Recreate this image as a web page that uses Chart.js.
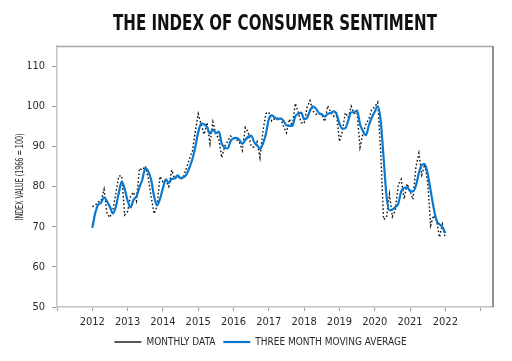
<!DOCTYPE html>
<html>
<head>
<meta charset="utf-8">
<script src="https://cdn.jsdelivr.net/npm/chart.js@4.4.1/dist/chart.umd.min.js"></script>
<style>
  html, body { margin: 0; padding: 0; background: #ffffff; }
  #wrap { width: 512px; height: 361px; position: relative; }
</style>
</head>
<body>
<div id="wrap"><canvas id="c" width="512" height="361"></canvas></div>
<script>
// ---- Data (University of Michigan Index of Consumer Sentiment, Jan 2012 – Jan 2022) ----
const chartTitle = "THE INDEX OF CONSUMER SENTIMENT";
const yAxisTitle = "INDEX VALUE (1966 = 100)";
const seriesNames = ["MONTHLY DATA", "THREE MONTH MOVING AVERAGE"];
const startYear = 2012;
const yearTicks = [2012, 2013, 2014, 2015, 2016, 2017, 2018, 2019, 2020, 2021, 2022];

const monthlyData = [
  75.0, 75.3, 76.2, 76.4, 79.3, 73.2, 72.3, 74.3, 78.3, 82.6, 82.7, 72.9,
  73.8, 77.6, 78.6, 76.4, 84.5, 84.1, 85.1, 82.1, 77.5, 73.2, 75.1, 82.5,
  81.2, 81.6, 80.0, 84.1, 81.9, 82.5, 81.8, 82.5, 84.6, 86.9, 88.8, 93.6,
  98.1, 95.4, 93.0, 95.9, 90.7, 96.1, 93.1, 91.9, 87.2, 90.0, 91.3, 92.6,
  92.0, 91.7, 91.0, 89.0, 94.7, 93.5, 90.0, 89.8, 91.2, 87.2, 93.8, 98.2,
  98.5, 96.3, 96.9, 97.0, 97.1, 95.0, 93.4, 96.8, 95.1, 100.7, 98.5, 95.9,
  95.7, 99.7, 101.4, 98.8, 98.0, 98.2, 97.9, 96.2, 100.1, 98.6, 97.5, 98.3,
  91.2, 93.8, 98.4, 97.2, 100.0, 98.2, 98.4, 89.8, 93.2, 95.5, 96.8, 99.3,
  99.8, 101.0, 89.1, 71.8, 72.3, 78.1, 72.5, 74.1, 80.4, 81.8, 76.9, 80.7,
  79.0, 76.8, 84.9, 88.3, 82.9, 85.5, 81.2, 70.3, 72.8, 71.7, 67.4, 70.6,
  67.2
];

const movingAverage = [
  69.7, 73.4, 75.5, 76.0, 77.3, 76.3, 74.9, 73.3, 75.0, 78.4, 81.2, 79.4,
  76.5, 74.8, 76.7, 77.5, 79.8, 81.7, 84.6, 83.8, 81.6, 77.6, 75.3, 76.9,
  79.6, 81.8, 80.9, 81.9, 82.0, 82.8, 82.1, 82.3, 83.0, 84.7, 86.8, 89.8,
  93.5, 95.7, 95.5, 94.8, 93.2, 94.2, 93.3, 93.7, 90.7, 89.7, 89.5, 91.3,
  92.0, 92.1, 91.6, 90.6, 91.6, 92.4, 92.7, 91.1, 90.3, 89.4, 90.7, 93.1,
  96.8, 97.7, 97.2, 96.7, 97.0, 96.4, 95.2, 95.1, 95.1, 97.5, 98.1, 98.4,
  96.7, 97.1, 98.9, 100.0, 99.4, 98.3, 98.0, 97.4, 98.1, 98.3, 98.7, 98.1,
  95.7, 94.4, 94.5, 96.5, 98.5, 98.5, 98.9, 95.5, 93.8, 92.8, 95.2, 97.2,
  98.6, 100.0, 96.6, 87.3, 77.7, 74.1, 74.3, 74.9, 75.7, 78.8, 79.7, 79.8,
  78.9, 78.8, 80.2, 83.3, 85.4, 85.6, 83.2, 79.0, 74.8, 71.6, 70.6, 69.9,
  68.4
];

const toPoints = (arr) => arr.map((v, i) => ({ x: startYear + i / 12, y: v }));

const FONT = "'Liberation Sans Narrow', 'DejaVu Sans Condensed', 'Arial Narrow', sans-serif";
const TEXT = '#2a2a2a';

const extraText = {
  id: 'extraText',
  afterDraw(chart) {
    const ctx = chart.ctx;
    const a = chart.chartArea;
    ctx.save();
    // top + right frame
    ctx.strokeStyle = '#a6a6a6';
    ctx.lineWidth = 1.5;
    ctx.beginPath();
    ctx.moveTo(a.left, a.top + 0.5);
    ctx.lineTo(a.right, a.top + 0.5);
    ctx.stroke();
    ctx.strokeStyle = '#909090';
    ctx.lineWidth = 2;
    ctx.beginPath();
    ctx.moveTo(a.right, a.top);
    ctx.lineTo(a.right, a.bottom);
    ctx.stroke();
    // main title
    ctx.fillStyle = '#111';
    ctx.font = "bold 22px " + FONT;
    ctx.textAlign = 'center';
    ctx.textBaseline = 'alphabetic';
    ctx.fillText(chartTitle, 275, 29.5, 324);
    // y-axis title
    ctx.translate(20, 177);
    ctx.rotate(-Math.PI / 2);
    ctx.font = "11px " + FONT;
    ctx.fillStyle = TEXT;
    ctx.textBaseline = 'middle';
    ctx.fillText(yAxisTitle, 0, 0, 87);
    ctx.restore();
  }
};

new Chart(document.getElementById('c'), {
  type: 'line',
  data: {
    datasets: [
      {
        label: seriesNames[0],
        data: toPoints(monthlyData),
        borderColor: '#111111',
        backgroundColor: '#111111',
        borderWidth: 1.4,
        borderDash: [1.6, 2.2],
        pointRadius: 0,
        tension: 0,
        order: 2
      },
      {
        label: seriesNames[1],
        data: toPoints(movingAverage),
        borderColor: '#0b78d0',
        backgroundColor: '#0b78d0',
        borderWidth: 2.2,
        pointRadius: 0,
        tension: 0.4,
        cubicInterpolationMode: 'monotone',
        order: 1
      }
    ]
  },
  plugins: [extraText],
  options: {
    responsive: false,
    animation: false,
    devicePixelRatio: 1,
    layout: { padding: { left: 28, right: 19, top: 46, bottom: 4 } },
    plugins: {
      title: { display: false },
      tooltip: { enabled: false },
      legend: {
        display: true,
        position: 'bottom',
        labels: {
          color: TEXT,
          font: { family: FONT, size: 10 },
          usePointStyle: true,
          pointStyle: 'line',
          pointStyleWidth: 27,
          boxHeight: 10,
          padding: 8,
          sort: (a, b) => a.datasetIndex - b.datasetIndex
        }
      }
    },
    scales: {
      x: {
        type: 'linear',
        min: 2011,
        max: 2023.35,
        afterFit: (s) => { s.height = 22; },
        border: { display: true, color: '#c4c4c4', width: 1.5 },
        grid: { display: true, drawOnChartArea: false, drawTicks: true, tickLength: 4, color: '#9a9a9a' },
        ticks: {
          stepSize: 1,
          includeBounds: false,
          autoSkip: false,
          maxRotation: 0,
          padding: 5,
          color: TEXT,
          font: { family: FONT, size: 11 },
          callback: (v) => {
            const y = Math.round(v);
            return yearTicks.includes(y) ? String(y) : '';
          }
        }
      },
      y: {
        min: 50,
        max: 115,
        afterFit: (s) => { s.width = 29; },
        border: { display: true, color: '#c4c4c4', width: 1.5 },
        grid: { display: true, drawOnChartArea: false, drawTicks: true, tickLength: 5, color: '#9a9a9a' },
        ticks: {
          stepSize: 10,
          includeBounds: false,
          padding: 7,
          color: TEXT,
          font: { family: FONT, size: 11 }
        }
      }
    }
  }
});
</script>
</body>
</html>
